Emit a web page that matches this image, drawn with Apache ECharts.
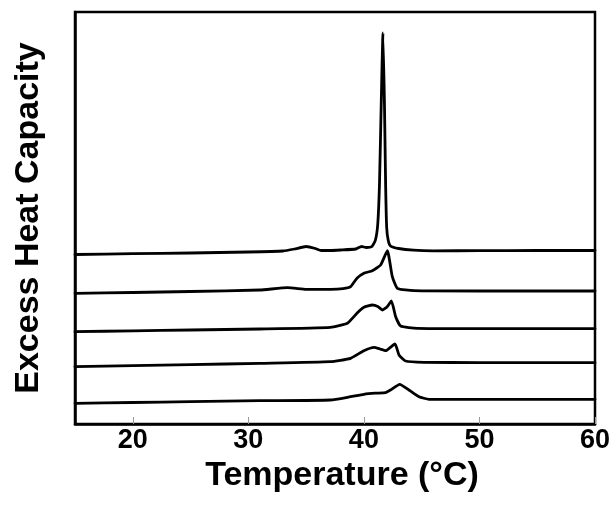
<!DOCTYPE html>
<html><head><meta charset="utf-8">
<script src="https://cdn.jsdelivr.net/npm/echarts@6/dist/echarts.min.js"></script>
<style>html,body{margin:0;padding:0;background:#fff}#c{width:615px;height:507px}</style>
</head><body><div id="c"></div>
<script>
// x-axis tick labels (°C)
var xTicks = [20, 30, 40, 50, 60];
// curves, top to bottom: [temperature °C, offset heat capacity (arb.)]
var curve1 = [[15,169.5],[20,170.3],[25,171],[30,172],[33,173],[34,175],[35,177.5],[35.8,175.5],[36.3,173.5],[37,173.5],[38,174],[39.3,175],[39.8,177.5],[40.2,176.5],[40.7,177.5],[41.0,184],[41.2,200],[41.35,240],[41.5,320],[41.65,391],[41.78,320],[41.88,240],[41.97,197],[42.1,184],[42.3,178],[43,175.5],[44.3,173.8],[46,173.2],[50,173.3],[55,173.5],[60,173.5]];
var curve2 = [[15,130.7],[20,131.5],[25,132.5],[31,134],[33.4,136.3],[35,134.7],[37.1,134.6],[38.2,135.3],[38.85,137.3],[39.4,145.7],[40.0,150.7],[40.73,153.3],[41.45,159],[42.03,173.3],[42.46,147.3],[42.9,135.7],[44.33,133.3],[50,133],[60,133]];
var curve3 = [[15,92.3],[20,93.2],[25,94],[31,95],[37.1,96.7],[38.57,100.7],[39.4,110.7],[40.0,116.7],[40.73,119],[41.2,117.5],[41.6,114],[42.0,117],[42.38,123],[42.75,107.3],[43.18,98],[44.63,95.7],[50,95.4],[60,95.3]];
var curve4 = [[15,57.3],[20,58.3],[25,59.3],[31,60.7],[37.1,62.3],[38.85,65.7],[40.0,73.3],[40.87,76.7],[41.4,75],[41.88,73.3],[42.69,80],[43.04,69],[43.6,63],[45.2,61.7],[50,61.4],[60,61.3]];
var curve5 = [[15,20.7],[20,21.5],[25,22.3],[31,23.3],[37.1,24],[38.85,27.3],[40.0,29.7],[41.0,30.8],[41.88,31.3],[42.3,34],[43.1,39.7],[43.9,34],[44.77,27.3],[45.63,24.7],[50,24.7],[60,24.7]];

var curves = [curve1, curve2, curve3, curve4, curve5];
var chart = echarts.init(document.getElementById('c'), null, {renderer:'canvas'});
var font = 'Liberation Sans, Arial, Helvetica, sans-serif';
chart.setOption({
  animation:false,
  backgroundColor:'#fff',
  grid:{left:75, right:20, top:12, bottom:83, show:true, borderColor:'#000', borderWidth:2.5},
  xAxis:{
    type:'value', min:15, max:60,
    name:'Temperature (°C)', nameLocation:'middle', nameGap:35,
    nameTextStyle:{fontFamily:font, fontWeight:'bold', fontSize:34, color:'#000', padding:[0,0,0,14]},
    axisLine:{show:true, lineStyle:{color:'#000', width:2.5}},
    axisTick:{show:true, inside:true, length:7, customValues:xTicks, lineStyle:{color:'#999', width:1}},
    axisLabel:{customValues:xTicks, margin:3, fontFamily:font, fontWeight:'bold', fontSize:27, color:'#000'},
    splitLine:{show:false}
  },
  yAxis:{
    type:'value', min:0, max:412,
    name:'Excess Heat Capacity', nameLocation:'middle', nameGap:29, nameRotate:90,
    nameTextStyle:{fontFamily:font, fontWeight:'bold', fontSize:34, color:'#000'},
    axisLine:{show:true, lineStyle:{color:'#000', width:2.5}},
    axisTick:{show:false}, axisLabel:{show:false}, splitLine:{show:false}
  },
  series: curves.map(function(d){
    return {type:'line', data:d, showSymbol:false, smooth:0.15,
      lineStyle:{color:'#000', width:2.8, join:'round', cap:'round'}};
  })
});
</script></body></html>
